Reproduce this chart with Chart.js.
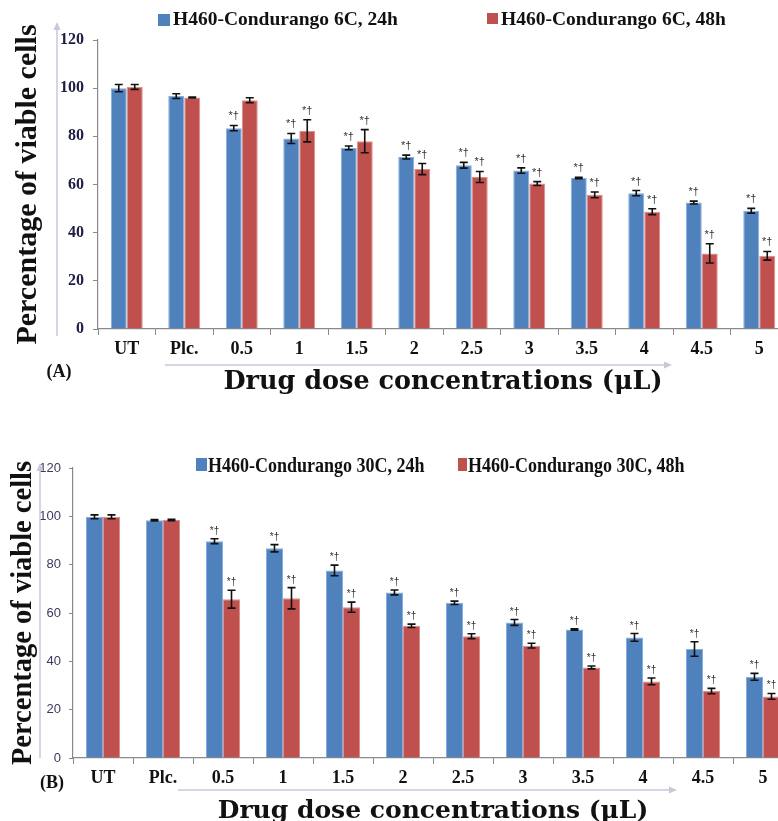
<!DOCTYPE html>
<html><head><meta charset="utf-8">
<script src="https://cdn.jsdelivr.net/npm/chart.js@4"></script>
<style>
html,body{margin:0;padding:0;background:#fff;overflow:hidden;width:778px;height:821px;position:relative;}
.box{position:absolute;left:0;}
canvas{display:block;}
</style></head><body>
<div class="box" style="top:0;width:800px;height:410px"><canvas id="cA"></canvas></div>
<div class="box" style="top:430px;width:800px;height:400px"><canvas id="cB"></canvas></div>
<script>
// ---------- data ----------
const categories = ['UT', 'Plc.', '0.5', '1', '1.5', '2', '2.5', '3', '3.5', '4', '4.5', '5'];
const labelA24 = 'H460-Condurango 6C, 24h';
const labelA48 = 'H460-Condurango 6C, 48h';
const labelB24 = 'H460-Condurango 30C, 24h';
const labelB48 = 'H460-Condurango 30C, 48h';
const seriesA24 = [100.0, 96.7, 83.4, 79.1, 75.2, 71.4, 68.0, 65.8, 62.7, 56.4, 52.5, 49.1];
const errorA24  = [1.5, 1.0, 1.1, 2.1, 0.8, 0.8, 1.2, 1.1, 0.3, 1.1, 0.6, 1.0];
const seriesA48 = [100.5, 96.1, 95.0, 82.3, 78.0, 66.4, 63.1, 60.4, 55.7, 48.7, 31.4, 30.4];
const errorA48  = [1.0, 0.2, 1.0, 4.6, 4.8, 2.3, 2.3, 0.8, 1.2, 1.2, 4.0, 1.8];
const seriesB24 = [99.8, 98.4, 89.7, 86.8, 77.6, 68.5, 64.2, 56.1, 53.2, 49.9, 45.1, 33.6];
const errorB24  = [0.8, 0.3, 1.0, 1.5, 2.2, 1.0, 0.7, 1.2, 0.3, 1.6, 3.0, 1.4];
const seriesB48 = [99.8, 98.5, 65.7, 66.1, 62.4, 54.7, 50.4, 46.5, 37.5, 31.7, 27.7, 25.5];
const errorB48  = [0.8, 0.3, 3.7, 4.4, 2.1, 0.7, 1.0, 1.0, 0.6, 1.4, 1.1, 1.2];
const sigA24 = ['', '', '*†', '*†', '*†', '*†', '*†', '*†', '*†', '*†', '*†', '*†'];
const sigA48 = ['', '', '', '*†', '*†', '*†', '*†', '*†', '*†', '*†', '*†', '*†'];
const sigB24 = ['', '', '*†', '*†', '*†', '*†', '*†', '*†', '*†', '*†', '*†', '*†'];
const sigB48 = ['', '', '*†', '*†', '*†', '*†', '*†', '*†', '*†', '*†', '*†', '*†'];
const yMin = 0, yMax = 120, yStep = 20;
const yTitle = 'Percentage of viable cells';
const xTitle = 'Drug dose concentrations (\u03bcL)';
const panelA = '(A)', panelB = '(B)';

const BLUE = '#4F81BD', RED = '#C0504D';
const SERIF = '"Liberation Serif", "Times New Roman", serif';

function makeChart(id, g) {
  const canvas = document.getElementById(id);
  canvas.width = 800; canvas.height = g.h;
  canvas.style.width = '800px'; canvas.style.height = g.h + 'px';

  const extras = {
    id: 'extras',
    afterDatasetsDraw(chart) {
      const ctx = chart.ctx, ys = chart.scales.y;
      chart.data.datasets.forEach((ds, i) => {
        const meta = chart.getDatasetMeta(i);
        meta.data.forEach((bar, j) => {
          const v = ds.data[j], e = ds.errors[j];
          const x = bar.x;
          const yT = ys.getPixelForValue(v + e), yB = ys.getPixelForValue(v - e);
          ctx.save();
          ctx.strokeStyle = '#111'; ctx.lineWidth = 1.6;
          ctx.beginPath();
          ctx.moveTo(x, yT); ctx.lineTo(x, yB);
          ctx.moveTo(x - 4, yT); ctx.lineTo(x + 4, yT);
          ctx.moveTo(x - 4, yB); ctx.lineTo(x + 4, yB);
          ctx.stroke();
          if (ds.sig[j]) {
            ctx.fillStyle = '#333';
            ctx.font = g.sigFont;
            ctx.textAlign = 'center'; ctx.textBaseline = 'alphabetic';
            ctx.fillText(ds.sig[j], x, yT - g.sigGap);
          }
          ctx.restore();
        });
      });
    },
    afterDraw(chart) {
      const ctx = chart.ctx;
      ctx.save();
      // decorative arrows
      ctx.strokeStyle = '#cbc6da'; ctx.fillStyle = '#cbc6da'; ctx.lineWidth = 1.5;
      ctx.beginPath(); ctx.moveTo(g.vx, g.vy0); ctx.lineTo(g.vx, g.vy1 + 6); ctx.stroke();
      ctx.beginPath(); ctx.moveTo(g.vx, g.vy1); ctx.lineTo(g.vx - 3.5, g.vy1 + 8); ctx.lineTo(g.vx + 3.5, g.vy1 + 8); ctx.closePath(); ctx.fill();
      ctx.beginPath(); ctx.moveTo(g.hx0, g.hy); ctx.lineTo(g.hx1 - 6, g.hy); ctx.stroke();
      ctx.beginPath(); ctx.moveTo(g.hx1, g.hy); ctx.lineTo(g.hx1 - 8, g.hy - 3.5); ctx.lineTo(g.hx1 - 8, g.hy + 3.5); ctx.closePath(); ctx.fill();
      // legend
      chart.data.datasets.forEach((ds, i) => {
        const L = g.legend[i];
        ctx.fillStyle = ds.backgroundColor;
        ctx.fillRect(L.bx, L.by, L.bw, L.bh);
        ctx.save();
        ctx.translate(L.tx, L.ty);
        ctx.scale(g.legendScale, 1);
        ctx.fillStyle = '#111';
        ctx.font = g.legendFont;
        ctx.textAlign = 'left'; ctx.textBaseline = 'alphabetic';
        ctx.fillText(ds.label, 0, 0);
        ctx.restore();
      });
      // panel label
      ctx.fillStyle = '#111';
      ctx.font = 'bold 18px ' + SERIF;
      ctx.textAlign = 'center'; ctx.textBaseline = 'middle';
      ctx.fillText(g.panel, g.px, g.py);
      ctx.restore();
    }
  };

  return new Chart(canvas, {
    type: 'bar',
    data: {
      labels: categories,
      datasets: [
        { label: g.l1, data: g.d1, errors: g.e1, sig: g.s1, backgroundColor: BLUE, borderColor: '#86aede', borderWidth: 1 },
        { label: g.l2, data: g.d2, errors: g.e2, sig: g.s2, backgroundColor: RED, borderColor: '#d9908e', borderWidth: 1 }
      ]
    },
    options: {
      responsive: false,
      animation: false,
      events: [],
      layout: { padding: { top: g.padTop, right: g.padRight, bottom: 0, left: 0 } },
      datasets: { bar: { categoryPercentage: g.catPct, barPercentage: 1.0 } },
      plugins: { legend: { display: false }, tooltip: { enabled: false } },
      scales: {
        x: {
          afterFit(s) { s.height = g.xH; },
          grid: { display: true, drawOnChartArea: false, drawTicks: true, tickLength: 6, color: '#8a8a8a', offset: true },
          border: { display: true, color: '#8a8a8a', width: 1.2 },
          ticks: { color: '#111', padding: g.xTickPad, font: { family: SERIF, size: 18, weight: 'bold' }, maxRotation: 0, autoSkip: false },
          title: { display: true, text: xTitle, color: '#111',
                   font: { family: '"DejaVu Serif", serif', size: g.xTitleSize, weight: 'bold' },
                   padding: { top: 0, bottom: g.xTitlePad } }
        },
        y: {
          min: yMin, max: yMax,
          afterFit(s) { s.width = g.yW; },
          grid: { display: true, drawOnChartArea: false, drawTicks: true, tickLength: g.yTickLen, color: '#8a8a8a' },
          border: { display: true, color: '#8a8a8a', width: 1.2 },
          ticks: { stepSize: yStep, color: g.yTickColor, padding: g.yTickPad, font: g.yTickFont },
          title: { display: true, text: yTitle, color: '#111',
                   font: { family: SERIF, size: g.yTitleSize, weight: 'bold' },
                   padding: { top: g.yTitlePad, bottom: 0 } }
        }
      }
    },
    plugins: [extras]
  });
}

makeChart('cA', {
  h: 410, padTop: 40, padRight: 12, xH: 81, yW: 98, catPct: 0.556,
  l1: labelA24, l2: labelA48, d1: seriesA24, d2: seriesA48, e1: errorA24, e2: errorA48, s1: sigA24, s2: sigA48,
  xTickPad: 4, xTitleSize: 25.5, xTitlePad: 12,
  yTickLen: 5, yTickPad: 9, yTickColor: '#1c1c44', yTickFont: { family: SERIF, size: 16, weight: 'bold' },
  yTitleSize: 30, yTitlePad: 10,
  sigFont: '11px "Liberation Sans", Arial, sans-serif', sigGap: 6,
  vx: 57, vy0: 336, vy1: 22, hx0: 165, hx1: 672, hy: 365,
  legendFont: 'bold 19.5px ' + SERIF, legendScale: 1,
  legend: [ { bx: 158, by: 14, bw: 12, bh: 12, tx: 173, ty: 25 }, { bx: 487, by: 13, bw: 11, bh: 11, tx: 501, ty: 25 } ],
  panel: panelA, px: 59, py: 372
});

makeChart('cB', {
  h: 400, padTop: 38, padRight: 7, xH: 72, yW: 73, catPct: 0.567,
  l1: labelB24, l2: labelB48, d1: seriesB24, d2: seriesB48, e1: errorB24, e2: errorB48, s1: sigB24, s2: sigB48,
  xTickPad: 4, xTitleSize: 25, xTitlePad: 4,
  yTickLen: 4, yTickPad: 8, yTickColor: '#3a3a5e', yTickFont: { family: '"Liberation Sans", Arial, sans-serif', size: 13, weight: 'normal' },
  yTitleSize: 28.5, yTitlePad: 7,
  sigFont: '10px "Liberation Sans", Arial, sans-serif', sigGap: 5,
  vx: 40, vy0: 328, vy1: 33, hx0: 178, hx1: 677, hy: 360,
  legendFont: 'bold 20px ' + SERIF, legendScale: 0.9,
  legend: [ { bx: 196, by: 28, bw: 11, bh: 13, tx: 208, ty: 41.5 }, { bx: 458, by: 28, bw: 9, bh: 13, tx: 468, ty: 41.5 } ],
  panel: panelB, px: 52, py: 353
});
</script>
</body></html>
